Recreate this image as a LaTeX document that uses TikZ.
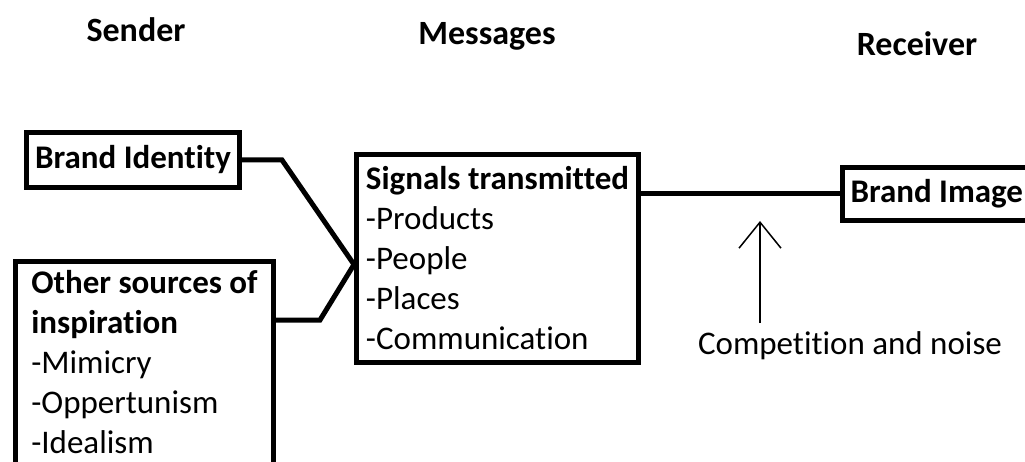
\documentclass[tikz,border=0pt]{standalone}
\usepackage{fontspec}
\setmainfont{Carlito}[Ligatures=NoCommon]
\usetikzlibrary{arrows.meta}

\tikzset{
  box/.style={draw, line width=5pt, align=left, inner xsep=8pt, inner ysep=9pt},
  title/.style={font=\fontsize{34}{40}\selectfont\bfseries},
  link/.style={line width=5pt},
}

\begin{document}
\begin{tikzpicture}[x=1pt, y=-1pt, font=\fontsize{33}{40}\selectfont]
   \useasboundingbox (0,0) rectangle (1025,462);
   \clip (0,0) rectangle (1025,462);

   % column titles
   \node[title] (sender) at (136,30) {Sender};
   \node[title] (messages) at (487,36) {Messages};
   \node[title] (receiver) at (917,44) {Receiver};

   % boxes
   \node[box, anchor=north west, minimum width=213pt, minimum height=55pt]
     (identity) at (24,130) {\textbf{Brand Identity}};
   \node[box, anchor=north west, minimum width=258pt]
     (sources) at (13,259) {\textbf{Other sources of}\\\textbf{inspiration}\\-Mimicry\\-Oppertunism\\-Idealism\strut};
   \node[box, anchor=north west, minimum width=282pt, minimum height=208pt]
     (signals) at (354,152) {\textbf{Signals transmitted}\\-Products\\-People\\-Places\\-Communication};
   \node[box, anchor=north west, minimum width=183pt, minimum height=53pt]
     (image) at (840,165) {\textbf{Brand Image}};
   \node (noise) at (850,346) {Competition and noise};

   % connectors
   \coordinate (join) at ([yshift=-6pt]signals.west);
   \coordinate (out) at ([yshift=-61pt]sources.north east);
   \draw[link] (identity.east) -- ++(40,0) -- (join);
   \draw[link] (out) -- ++(44,0) -- (join);
   \draw[link] (image.west -| signals.east) -- (image.west);

   \coordinate (tail) at (760,323);
   \coordinate (tip) at (760,221);
   \draw[line width=1.5pt, -{Straight Barb[length=26pt, width=42pt]}] (tail) -- (tip);
\end{tikzpicture}
\end{document}
